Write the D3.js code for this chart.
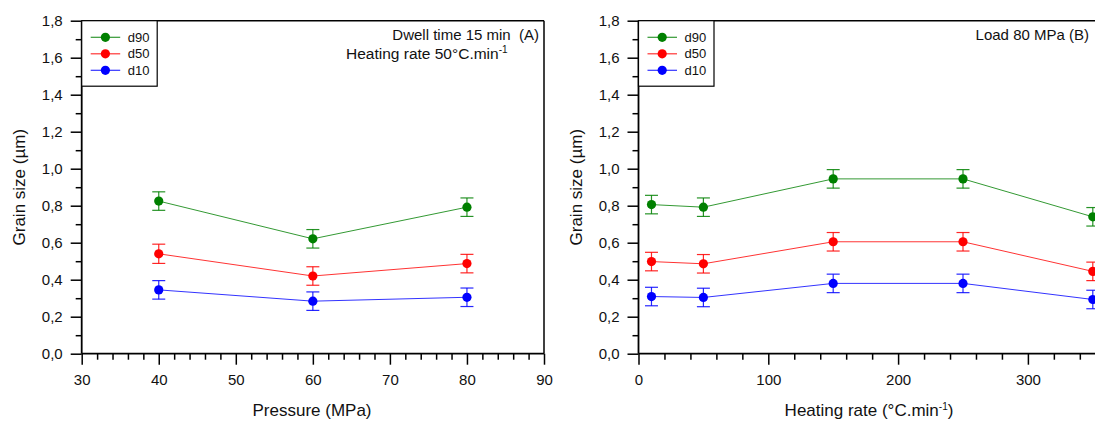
<!DOCTYPE html>
<html><head><meta charset="utf-8">
<script src="https://cdn.jsdelivr.net/npm/d3@7/dist/d3.min.js"></script>
<style>
html,body{margin:0;padding:0;background:#fff;}
svg{display:block;font-family:"Liberation Sans",Arial,sans-serif;}
</style></head>
<body><svg id="chart" width="1095" height="426"></svg>
<script>
// ---------- data ----------
const seriesNames = ["d90", "d50", "d10"];
const seriesColors = ["#008000", "#ff0000", "#0000ff"];

const pressureX = [40, 60, 80];
const pressureD90 = [0.825, 0.621, 0.792];
const pressureD50 = [0.540, 0.420, 0.487];
const pressureD10 = [0.345, 0.284, 0.305];
const pressureD90Err = [0.05, 0.05, 0.05];
const pressureD50Err = [0.052, 0.05, 0.05];
const pressureD10Err = [0.05, 0.05, 0.05];

const heatingX = [10, 50, 150, 250, 350];
const heatingD90 = [0.806, 0.792, 0.945, 0.945, 0.740];
const heatingD50 = [0.498, 0.486, 0.605, 0.605, 0.445];
const heatingD10 = [0.309, 0.304, 0.380, 0.380, 0.293];
const heatingD90Err = [0.05, 0.05, 0.05, 0.05, 0.05];
const heatingD50Err = [0.05, 0.05, 0.05, 0.05, 0.05];
const heatingD10Err = [0.05, 0.05, 0.05, 0.05, 0.05];

const yTickValues = [0, 0.2, 0.4, 0.6, 0.8, 1.0, 1.2, 1.4, 1.6, 1.8];
const pressureTicks = [30, 40, 50, 60, 70, 80, 90];
const heatingTicks = [0, 100, 200, 300];
const heatingMajorSpan = [0, 100, 200, 300, 400];

// ---------- drawing ----------
const svg = d3.select("#chart");
const locale = d3.formatLocale({decimal: ",", thousands: ".", grouping: [3], currency: ["", ""]});
const yFmt = locale.format(".1f");

const yTop = 20.7, yBottom = 353.7;
const y = d3.scaleLinear().domain([0, 1.8]).range([yBottom, yTop]);

function panel(cfg) {
  const g = svg.append("g");
  const x = d3.scaleLinear().domain(cfg.xDomain).range(cfg.xRange);
  const left = cfg.xRange[0], right = cfg.xRange[1];

  const series = [
    {name: seriesNames[0], color: seriesColors[0], v: cfg.d90, e: cfg.d90e},
    {name: seriesNames[1], color: seriesColors[1], v: cfg.d50, e: cfg.d50e},
    {name: seriesNames[2], color: seriesColors[2], v: cfg.d10, e: cfg.d10e}
  ];
  const line = d3.line().x(d => x(d[0])).y(d => y(d[1]));
  series.forEach(s => {
    const pts = cfg.xs.map((xv, i) => [xv, s.v[i], s.e[i]]);
    g.append("path").attr("d", line(pts)).attr("fill", "none")
      .attr("stroke", s.color).attr("stroke-width", 1).attr("stroke-opacity", 0.8);
    const eb = g.append("g").attr("stroke", s.color).attr("stroke-width", 1.2).attr("stroke-opacity", 0.85);
    pts.forEach(p => {
      const cx = x(p[0]);
      eb.append("line").attr("x1", cx).attr("x2", cx).attr("y1", y(p[1] - p[2])).attr("y2", y(p[1] + p[2]));
      eb.append("line").attr("x1", cx - 6.5).attr("x2", cx + 6.5).attr("y1", y(p[1] + p[2])).attr("y2", y(p[1] + p[2]));
      eb.append("line").attr("x1", cx - 6.5).attr("x2", cx + 6.5).attr("y1", y(p[1] - p[2])).attr("y2", y(p[1] - p[2]));
    });
    g.selectAll(null).data(pts).enter().append("circle")
      .attr("cx", d => x(d[0])).attr("cy", d => y(d[1])).attr("r", 4.6).attr("fill", s.color);
  });

  // frame (top and right)
  g.append("line").attr("x1", left).attr("x2", right).attr("y1", yTop).attr("y2", yTop)
    .attr("stroke", "#000").attr("stroke-width", 1.5);
  g.append("line").attr("x1", right).attr("x2", right).attr("y1", yTop).attr("y2", yBottom)
    .attr("stroke", "#000").attr("stroke-width", 1.5);

  const yAxis = g.append("g").attr("transform", `translate(${left},0)`)
    .call(d3.axisLeft(y).tickValues(yTickValues).tickFormat(yFmt).tickSize(11).tickPadding(8));
  const yMinor = g.append("g").attr("transform", `translate(${left},0)`)
    .call(d3.axisLeft(y).tickValues(yTickValues.slice(0, -1).map(v => v + 0.1)).tickFormat("").tickSize(6));
  const xAxis = g.append("g").attr("transform", `translate(0,${yBottom})`)
    .call(d3.axisBottom(x).tickValues(cfg.xTicks).tickFormat(d3.format("d")).tickSize(11).tickPadding(10));
  const xMinor = g.append("g").attr("transform", `translate(0,${yBottom})`)
    .call(d3.axisBottom(x).tickValues(cfg.xMinor).tickFormat("").tickSize(cfg.minorSize || 6));
  [yAxis, yMinor, xAxis, xMinor].forEach(a => {
    a.select(".domain").attr("stroke-width", 1.8).attr("stroke", "#000");
    a.selectAll(".tick line").attr("stroke-width", 1.5).attr("stroke", "#000");
    a.selectAll("text").attr("font-size", 15).attr("font-family", "Liberation Sans, Arial, sans-serif").attr("fill", "#111");
  });
  yMinor.select(".domain").remove();
  xMinor.select(".domain").remove();
  xAxis.select(".domain").attr("d", `M${left},0H${right}`);
  yAxis.select(".domain").attr("d", `M0,${yBottom}V${yTop}`);

  g.append("text").attr("transform", `translate(${left - 61},${(yTop + yBottom) / 2}) rotate(-90)`)
    .attr("text-anchor", "middle").attr("dominant-baseline", "middle")
    .attr("font-size", 17).attr("fill", "#111").text("Grain size (µm)");
  const xt = g.append("text").attr("x", cfg.xTitleX).attr("y", 416)
    .attr("text-anchor", "middle").attr("font-size", 17).attr("fill", "#111");
  cfg.xTitle(xt);

  const lg = g.append("g");
  lg.append("rect").attr("x", left).attr("y", yTop).attr("width", 75.5).attr("height", 65.5)
    .attr("fill", "#fff").attr("stroke", "#000").attr("stroke-width", 1.2);
  series.forEach((s, i) => {
    const ly = 37.3 + i * 16.5;
    lg.append("line").attr("x1", left + 9).attr("x2", left + 38.5).attr("y1", ly).attr("y2", ly)
      .attr("stroke", s.color).attr("stroke-width", 1.2).attr("stroke-opacity", 0.8);
    lg.append("circle").attr("cx", left + 23.7).attr("cy", ly).attr("r", 4.6).attr("fill", s.color);
    lg.append("text").attr("x", left + 46).attr("y", ly + 4.5).attr("font-size", 13).attr("fill", "#111").text(s.name);
  });

  cfg.annot(g);
}

function minorBetween(ticks, step) {
  const out = [];
  for (let i = 0; i < ticks.length - 1; i++) {
    for (let v = ticks[i] + step; v < ticks[i + 1] - 1e-9; v += step) out.push(v);
  }
  return out;
}

panel({
  xDomain: [30, 90], xRange: [81.7, 544],
  xTicks: pressureTicks, xMinor: minorBetween(pressureTicks, 2),
  xs: pressureX,
  d90: pressureD90, d50: pressureD50, d10: pressureD10,
  d90e: pressureD90Err, d50e: pressureD50Err, d10e: pressureD10Err,
  xTitleX: 312,
  xTitle: t => t.text("Pressure (MPa)"),
  annot: g => {
    g.append("text").attr("x", 539).attr("y", 40).attr("text-anchor", "end")
      .attr("font-size", 15).attr("fill", "#111").attr("xml:space", "preserve").text("Dwell time 15 min  (A)");
    const t = g.append("text").attr("x", 346).attr("y", 58.5).attr("font-size", 15.5).attr("fill", "#111");
    t.append("tspan").text("Heating rate 50°C.min");
    t.append("tspan").attr("dy", -6).attr("font-size", 10).text("-1");
  }
});

panel({
  xDomain: [0, 400], xRange: [638.5, 638.5 + 4 * 129.8],
  xTicks: heatingTicks, xMinor: minorBetween(heatingMajorSpan, 20),
  xs: heatingX,
  d90: heatingD90, d50: heatingD50, d10: heatingD10,
  d90e: heatingD90Err, d50e: heatingD50Err, d10e: heatingD10Err,
  xTitleX: 869,
  xTitle: t => {
    t.append("tspan").text("Heating rate (°C.min");
    t.append("tspan").attr("dy", -6).attr("font-size", 10).text("-1");
    t.append("tspan").attr("dy", 6).text(")");
  },
  annot: g => {
    g.append("text").attr("x", 1089).attr("y", 40).attr("text-anchor", "end")
      .attr("font-size", 15).attr("fill", "#111").text("Load 80 MPa (B)");
  }
});
</script>
</body></html>
